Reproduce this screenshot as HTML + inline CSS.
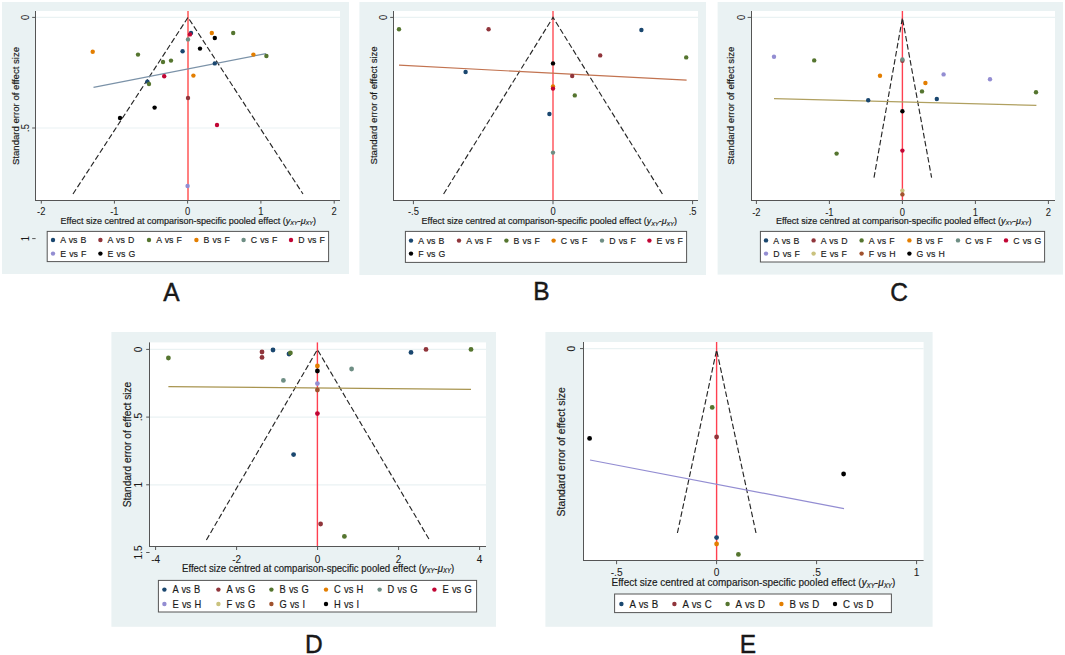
<!DOCTYPE html>
<html><head><meta charset="utf-8"><title>Funnel plots</title>
<style>
html,body{margin:0;padding:0;background:#fff;}
body{width:1065px;height:655px;overflow:hidden;}
svg{display:block;}
text{font-family:"Liberation Sans", sans-serif;fill:#1a1a1a;stroke:#1a1a1a;stroke-width:0.18px;}
</style></head><body>
<svg width="1065" height="655" viewBox="0 0 1065 655">
<rect width="1065" height="655" fill="#fff"/>
<rect x="2" y="2" width="347" height="272" fill="#eaf2f3"/>
<rect x="36" y="11" width="304" height="189" fill="#fff"/>
<line x1="36" y1="17.4" x2="340" y2="17.4" stroke="#eaf2f3" stroke-width="1.2"/>
<line x1="36" y1="128" x2="340" y2="128" stroke="#eaf2f3" stroke-width="1.2"/>
<line x1="188" y1="11" x2="188" y2="200" stroke="#ff8080" stroke-width="2.0"/>
<path d="M73 194L188 17.4L303 194" fill="none" stroke="#262626" stroke-width="1.15" stroke-dasharray="5.6 2.6"/>
<line x1="93.5" y1="87.3" x2="266" y2="53.6" stroke="#7b92a8" stroke-width="1.2"/>
<circle cx="92.7" cy="51.7" r="2.2" fill="#e37e00"/>
<circle cx="138" cy="54.6" r="2.2" fill="#55752f"/>
<circle cx="120" cy="118" r="2.2" fill="#000000"/>
<circle cx="187.6" cy="186" r="2.2" fill="#938dd2"/>
<circle cx="191" cy="33" r="2.2" fill="#1a476f"/>
<circle cx="190" cy="34.4" r="2.2" fill="#c10534"/>
<circle cx="211.8" cy="33" r="2.2" fill="#e37e00"/>
<circle cx="233.2" cy="33" r="2.2" fill="#55752f"/>
<circle cx="214.8" cy="38" r="2.2" fill="#000000"/>
<circle cx="188" cy="39.4" r="2.2" fill="#6e8e84"/>
<circle cx="200" cy="48.6" r="2.2" fill="#000000"/>
<circle cx="182.6" cy="51.2" r="2.2" fill="#1a476f"/>
<circle cx="253.4" cy="54.6" r="2.2" fill="#e37e00"/>
<circle cx="266.4" cy="56" r="2.2" fill="#55752f"/>
<circle cx="163" cy="62" r="2.2" fill="#55752f"/>
<circle cx="171" cy="60.6" r="2.2" fill="#55752f"/>
<circle cx="214.8" cy="63.4" r="2.2" fill="#1a476f"/>
<circle cx="164.2" cy="76.2" r="2.2" fill="#c10534"/>
<circle cx="193.4" cy="75.6" r="2.2" fill="#e37e00"/>
<circle cx="147.4" cy="81.6" r="2.2" fill="#1a476f"/>
<circle cx="149" cy="84" r="2.2" fill="#55752f"/>
<circle cx="188" cy="98" r="2.2" fill="#90353b"/>
<circle cx="154.6" cy="107.6" r="2.2" fill="#000000"/>
<circle cx="217" cy="125" r="2.2" fill="#c10534"/>
<line x1="35.5" y1="11" x2="35.5" y2="201" stroke="#555555" stroke-width="1"/>
<line x1="35" y1="200.5" x2="340" y2="200.5" stroke="#555555" stroke-width="1"/>
<line x1="32.2" y1="17.4" x2="35.6" y2="17.4" stroke="#555555" stroke-width="1"/>
<text transform="translate(28.72 17.4) rotate(-90) scale(0.9346 1)" text-anchor="middle" font-size="10.06" style="stroke-width:0.05px">0</text>
<line x1="32.2" y1="128" x2="35.6" y2="128" stroke="#555555" stroke-width="1"/>
<text transform="translate(28.72 128) rotate(-90) scale(0.9346 1)" text-anchor="middle" font-size="10.06" style="stroke-width:0.05px">.5</text>
<line x1="32.2" y1="238.6" x2="35.6" y2="238.6" stroke="#555555" stroke-width="1"/>
<text transform="translate(28.72 238.6) rotate(-90) scale(0.9346 1)" text-anchor="middle" font-size="10.06" style="stroke-width:0.05px">1</text>
<line x1="41.3" y1="200" x2="41.3" y2="203.6" stroke="#555555" stroke-width="1"/>
<text transform="translate(41.3 215.12) scale(0.9346 1)" text-anchor="middle" font-size="10.06" style="stroke-width:0.05px">-2</text>
<line x1="114.4" y1="200" x2="114.4" y2="203.6" stroke="#555555" stroke-width="1"/>
<text transform="translate(114.4 215.12) scale(0.9346 1)" text-anchor="middle" font-size="10.06" style="stroke-width:0.05px">-1</text>
<line x1="187.6" y1="200" x2="187.6" y2="203.6" stroke="#555555" stroke-width="1"/>
<text transform="translate(187.6 215.12) scale(0.9346 1)" text-anchor="middle" font-size="10.06" style="stroke-width:0.05px">0</text>
<line x1="260.9" y1="200" x2="260.9" y2="203.6" stroke="#555555" stroke-width="1"/>
<text transform="translate(260.9 215.12) scale(0.9346 1)" text-anchor="middle" font-size="10.06" style="stroke-width:0.05px">1</text>
<line x1="334.2" y1="200" x2="334.2" y2="203.6" stroke="#555555" stroke-width="1"/>
<text transform="translate(334.2 215.12) scale(0.9346 1)" text-anchor="middle" font-size="10.06" style="stroke-width:0.05px">2</text>
<text transform="translate(60.6 223.97) scale(0.9346 1)" font-size="9.63">Effect size centred at comparison-specific pooled effect (<tspan font-style="italic">y</tspan><tspan font-style="italic" font-size="5.97" dy="1.2">XY</tspan><tspan dy="-1.2">-</tspan><tspan font-style="italic">μ</tspan><tspan font-style="italic" font-size="5.97" dy="1.2">XY</tspan><tspan dy="-1.2">)</tspan></text>
<text transform="translate(18.56 106) rotate(-90) scale(1.0000 1)" text-anchor="middle" font-size="9.6">Standard error of effect size</text>
<rect x="47.2" y="231.4" width="281.4" height="30.2" fill="#fff" stroke="#555555" stroke-width="1"/>
<circle cx="53" cy="240" r="2.2" fill="#1a476f"/>
<text transform="translate(60.2 243.45) scale(0.8901 1)" font-size="9.82" word-spacing="0.80">A vs B</text>
<circle cx="100.4" cy="240" r="2.2" fill="#90353b"/>
<text transform="translate(107.6 243.45) scale(0.8901 1)" font-size="9.82" word-spacing="0.80">A vs D</text>
<circle cx="149" cy="240" r="2.2" fill="#55752f"/>
<text transform="translate(156.2 243.45) scale(0.8901 1)" font-size="9.82" word-spacing="0.80">A vs F</text>
<circle cx="196.4" cy="240" r="2.2" fill="#e37e00"/>
<text transform="translate(203.6 243.45) scale(0.8901 1)" font-size="9.82" word-spacing="0.80">B vs F</text>
<circle cx="243.6" cy="240" r="2.2" fill="#6e8e84"/>
<text transform="translate(250.8 243.45) scale(0.8901 1)" font-size="9.82" word-spacing="0.80">C vs F</text>
<circle cx="291" cy="240" r="2.2" fill="#c10534"/>
<text transform="translate(298.2 243.45) scale(0.8901 1)" font-size="9.82" word-spacing="0.80">D vs F</text>
<circle cx="53" cy="253.6" r="2.2" fill="#938dd2"/>
<text transform="translate(60.2 257.05) scale(0.8901 1)" font-size="9.82" word-spacing="0.80">E vs F</text>
<circle cx="100.4" cy="253.6" r="2.2" fill="#000000"/>
<text transform="translate(107.6 257.05) scale(0.8901 1)" font-size="9.82" word-spacing="0.80">E vs G</text>
<text transform="translate(171.4 301.1) scale(0.9259 1)" text-anchor="middle" font-size="26.46" style="stroke:#111;stroke-width:0.45px">A</text>
<rect x="359.4" y="2" width="346.6" height="273" fill="#eaf2f3"/>
<rect x="394" y="11" width="304" height="189.6" fill="#fff"/>
<line x1="394" y1="17.4" x2="698" y2="17.4" stroke="#eaf2f3" stroke-width="1.2"/>
<line x1="553" y1="11" x2="553" y2="200.6" stroke="#ff4d55" stroke-width="1.4"/>
<path d="M443.6 194L553 17.4L662.4 194" fill="none" stroke="#262626" stroke-width="1.15" stroke-dasharray="5.6 2.6"/>
<line x1="399" y1="65.2" x2="686.6" y2="80.2" stroke="#c27350" stroke-width="1.2"/>
<circle cx="399" cy="29.2" r="2.2" fill="#55752f"/>
<circle cx="488.6" cy="29.2" r="2.2" fill="#90353b"/>
<circle cx="641.4" cy="30" r="2.2" fill="#1a476f"/>
<circle cx="600.2" cy="55.4" r="2.2" fill="#90353b"/>
<circle cx="686.2" cy="57.4" r="2.2" fill="#55752f"/>
<circle cx="553" cy="63.4" r="2.2" fill="#000000"/>
<circle cx="465.6" cy="72" r="2.2" fill="#1a476f"/>
<circle cx="572.2" cy="76" r="2.2" fill="#90353b"/>
<circle cx="553" cy="86.4" r="2.2" fill="#e37e00"/>
<circle cx="553" cy="88.6" r="2.2" fill="#c10534"/>
<circle cx="574.8" cy="95.4" r="2.2" fill="#55752f"/>
<circle cx="549.4" cy="114" r="2.2" fill="#1a476f"/>
<circle cx="553" cy="152.6" r="2.2" fill="#6e8e84"/>
<line x1="393.5" y1="11" x2="393.5" y2="201" stroke="#555555" stroke-width="1"/>
<line x1="393" y1="200.5" x2="698" y2="200.5" stroke="#555555" stroke-width="1"/>
<line x1="390.2" y1="17.4" x2="393.6" y2="17.4" stroke="#555555" stroke-width="1"/>
<text transform="translate(386.52 17.4) rotate(-90) scale(0.9346 1)" text-anchor="middle" font-size="10.06" style="stroke-width:0.05px">0</text>
<line x1="413.4" y1="200.6" x2="413.4" y2="204.2" stroke="#555555" stroke-width="1"/>
<text transform="translate(413.4 215.12) scale(0.9346 1)" text-anchor="middle" font-size="10.06" style="stroke-width:0.05px">-.5</text>
<line x1="553" y1="200.6" x2="553" y2="204.2" stroke="#555555" stroke-width="1"/>
<text transform="translate(553 215.12) scale(0.9346 1)" text-anchor="middle" font-size="10.06" style="stroke-width:0.05px">0</text>
<line x1="692.6" y1="200.6" x2="692.6" y2="204.2" stroke="#555555" stroke-width="1"/>
<text transform="translate(692.6 215.12) scale(0.9346 1)" text-anchor="middle" font-size="10.06" style="stroke-width:0.05px">.5</text>
<text transform="translate(421.6 224.37) scale(0.9346 1)" font-size="9.63">Effect size centred at comparison-specific pooled effect (<tspan font-style="italic">y</tspan><tspan font-style="italic" font-size="5.97" dy="1.2">XY</tspan><tspan dy="-1.2">-</tspan><tspan font-style="italic">μ</tspan><tspan font-style="italic" font-size="5.97" dy="1.2">XY</tspan><tspan dy="-1.2">)</tspan></text>
<text transform="translate(376.56 105.4) rotate(-90) scale(1.0000 1)" text-anchor="middle" font-size="9.6">Standard error of effect size</text>
<rect x="405.4" y="231.4" width="281.2" height="31" fill="#fff" stroke="#555555" stroke-width="1"/>
<circle cx="411" cy="240.6" r="2.2" fill="#1a476f"/>
<text transform="translate(418.2 244.05) scale(0.8901 1)" font-size="9.82" word-spacing="0.80">A vs B</text>
<circle cx="459" cy="240.6" r="2.2" fill="#90353b"/>
<text transform="translate(466.2 244.05) scale(0.8901 1)" font-size="9.82" word-spacing="0.80">A vs F</text>
<circle cx="506.4" cy="240.6" r="2.2" fill="#55752f"/>
<text transform="translate(513.6 244.05) scale(0.8901 1)" font-size="9.82" word-spacing="0.80">B vs F</text>
<circle cx="553.6" cy="240.6" r="2.2" fill="#e37e00"/>
<text transform="translate(560.8 244.05) scale(0.8901 1)" font-size="9.82" word-spacing="0.80">C vs F</text>
<circle cx="602" cy="240.6" r="2.2" fill="#6e8e84"/>
<text transform="translate(609.2 244.05) scale(0.8901 1)" font-size="9.82" word-spacing="0.80">D vs F</text>
<circle cx="649.4" cy="240.6" r="2.2" fill="#c10534"/>
<text transform="translate(656.6 244.05) scale(0.8901 1)" font-size="9.82" word-spacing="0.80">E vs F</text>
<circle cx="411" cy="253.6" r="2.2" fill="#000000"/>
<text transform="translate(418.2 257.05) scale(0.8901 1)" font-size="9.82" word-spacing="0.80">F vs G</text>
<text transform="translate(541.3 300.4) scale(0.9259 1)" text-anchor="middle" font-size="26.46" style="stroke:#111;stroke-width:0.45px">B</text>
<rect x="717.6" y="2" width="345.4" height="272.6" fill="#eaf2f3"/>
<rect x="751.5" y="11" width="303.5" height="189.4" fill="#fff"/>
<line x1="751.5" y1="17.4" x2="1055" y2="17.4" stroke="#eaf2f3" stroke-width="1.2"/>
<line x1="902.4" y1="11" x2="902.4" y2="200.4" stroke="#ff4050" stroke-width="1.4"/>
<path d="M874 177.6L902.4 18L931.6 177.6" fill="none" stroke="#262626" stroke-width="1.15" stroke-dasharray="5.6 2.6"/>
<line x1="774" y1="98.6" x2="1036.4" y2="105.4" stroke="#b0a060" stroke-width="1.2"/>
<circle cx="774" cy="56.8" r="2.2" fill="#938dd2"/>
<circle cx="814.2" cy="60.4" r="2.2" fill="#55752f"/>
<circle cx="902.4" cy="60.8" r="2.2" fill="#90353b"/>
<circle cx="902.4" cy="59.5" r="2.2" fill="#6e8e84"/>
<circle cx="880" cy="75.8" r="2.2" fill="#e37e00"/>
<circle cx="943.6" cy="74.4" r="2.2" fill="#938dd2"/>
<circle cx="990" cy="79.2" r="2.2" fill="#938dd2"/>
<circle cx="925.4" cy="83" r="2.2" fill="#e37e00"/>
<circle cx="922" cy="91.4" r="2.2" fill="#55752f"/>
<circle cx="1036" cy="92.2" r="2.2" fill="#55752f"/>
<circle cx="868.2" cy="100.2" r="2.2" fill="#1a476f"/>
<circle cx="936.8" cy="99" r="2.2" fill="#1a476f"/>
<circle cx="902.4" cy="111.2" r="2.2" fill="#000000"/>
<circle cx="836.6" cy="153.6" r="2.2" fill="#55752f"/>
<circle cx="902.4" cy="150.6" r="2.2" fill="#c10534"/>
<circle cx="902.4" cy="190.6" r="2.2" fill="#cac27e"/>
<circle cx="902.4" cy="194.4" r="2.2" fill="#a0522d"/>
<line x1="751.5" y1="11" x2="751.5" y2="201" stroke="#555555" stroke-width="1"/>
<line x1="751" y1="200.5" x2="1055" y2="200.5" stroke="#555555" stroke-width="1"/>
<line x1="747.6" y1="17.4" x2="751" y2="17.4" stroke="#555555" stroke-width="1"/>
<text transform="translate(744.52 17.4) rotate(-90) scale(0.9346 1)" text-anchor="middle" font-size="10.06" style="stroke-width:0.05px">0</text>
<line x1="756.4" y1="200.4" x2="756.4" y2="204" stroke="#555555" stroke-width="1"/>
<text transform="translate(756.4 215.52) scale(0.9346 1)" text-anchor="middle" font-size="10.06" style="stroke-width:0.05px">-2</text>
<line x1="829.4" y1="200.4" x2="829.4" y2="204" stroke="#555555" stroke-width="1"/>
<text transform="translate(829.4 215.52) scale(0.9346 1)" text-anchor="middle" font-size="10.06" style="stroke-width:0.05px">-1</text>
<line x1="902.4" y1="200.4" x2="902.4" y2="204" stroke="#555555" stroke-width="1"/>
<text transform="translate(902.4 215.52) scale(0.9346 1)" text-anchor="middle" font-size="10.06" style="stroke-width:0.05px">0</text>
<line x1="975.4" y1="200.4" x2="975.4" y2="204" stroke="#555555" stroke-width="1"/>
<text transform="translate(975.4 215.52) scale(0.9346 1)" text-anchor="middle" font-size="10.06" style="stroke-width:0.05px">1</text>
<line x1="1048.4" y1="200.4" x2="1048.4" y2="204" stroke="#555555" stroke-width="1"/>
<text transform="translate(1048.4 215.52) scale(0.9346 1)" text-anchor="middle" font-size="10.06" style="stroke-width:0.05px">2</text>
<text transform="translate(776 223.77) scale(0.9346 1)" font-size="9.63">Effect size centred at comparison-specific pooled effect (<tspan font-style="italic">y</tspan><tspan font-style="italic" font-size="5.97" dy="1.2">XY</tspan><tspan dy="-1.2">-</tspan><tspan font-style="italic">μ</tspan><tspan font-style="italic" font-size="5.97" dy="1.2">XY</tspan><tspan dy="-1.2">)</tspan></text>
<text transform="translate(733.76 105.7) rotate(-90) scale(1.0000 1)" text-anchor="middle" font-size="9.6">Standard error of effect size</text>
<rect x="760.4" y="231.4" width="284.2" height="30.6" fill="#fff" stroke="#555555" stroke-width="1"/>
<circle cx="766" cy="240.4" r="2.2" fill="#1a476f"/>
<text transform="translate(773.2 243.85) scale(0.8901 1)" font-size="9.82" word-spacing="0.80">A vs B</text>
<circle cx="813.6" cy="240.4" r="2.2" fill="#90353b"/>
<text transform="translate(820.8 243.85) scale(0.8901 1)" font-size="9.82" word-spacing="0.80">A vs D</text>
<circle cx="861.6" cy="240.4" r="2.2" fill="#55752f"/>
<text transform="translate(868.8 243.85) scale(0.8901 1)" font-size="9.82" word-spacing="0.80">A vs F</text>
<circle cx="909.4" cy="240.4" r="2.2" fill="#e37e00"/>
<text transform="translate(916.6 243.85) scale(0.8901 1)" font-size="9.82" word-spacing="0.80">B vs F</text>
<circle cx="958" cy="240.4" r="2.2" fill="#6e8e84"/>
<text transform="translate(965.2 243.85) scale(0.8901 1)" font-size="9.82" word-spacing="0.80">C vs F</text>
<circle cx="1006" cy="240.4" r="2.2" fill="#c10534"/>
<text transform="translate(1013.2 243.85) scale(0.8901 1)" font-size="9.82" word-spacing="0.80">C vs G</text>
<circle cx="766" cy="253.6" r="2.2" fill="#938dd2"/>
<text transform="translate(773.2 257.05) scale(0.8901 1)" font-size="9.82" word-spacing="0.80">D vs F</text>
<circle cx="813.6" cy="253.6" r="2.2" fill="#cac27e"/>
<text transform="translate(820.8 257.05) scale(0.8901 1)" font-size="9.82" word-spacing="0.80">E vs F</text>
<circle cx="861.6" cy="253.6" r="2.2" fill="#a0522d"/>
<text transform="translate(868.8 257.05) scale(0.8901 1)" font-size="9.82" word-spacing="0.80">F vs H</text>
<circle cx="909.4" cy="253.6" r="2.2" fill="#000000"/>
<text transform="translate(916.6 257.05) scale(0.8901 1)" font-size="9.82" word-spacing="0.80">G vs H</text>
<text transform="translate(899 300.5) scale(0.9259 1)" text-anchor="middle" font-size="26.46" style="stroke:#111;stroke-width:0.45px">C</text>
<rect x="111.4" y="332" width="384.6" height="294.8" fill="#eaf2f3"/>
<rect x="150" y="342.4" width="336" height="204" fill="#fff"/>
<line x1="150" y1="349.4" x2="486" y2="349.4" stroke="#eaf2f3" stroke-width="1.2"/>
<line x1="150" y1="417.1" x2="486" y2="417.1" stroke="#eaf2f3" stroke-width="1.2"/>
<line x1="150" y1="484.8" x2="486" y2="484.8" stroke="#eaf2f3" stroke-width="1.2"/>
<line x1="317.4" y1="342.4" x2="317.4" y2="546.4" stroke="#ff4050" stroke-width="1.4"/>
<path d="M206.4 540L317.4 349.6L429.4 539.8" fill="none" stroke="#262626" stroke-width="1.15" stroke-dasharray="5.6 2.6"/>
<line x1="168.4" y1="386.6" x2="471" y2="389.4" stroke="#a8944f" stroke-width="1.2"/>
<circle cx="168.4" cy="358" r="2.4" fill="#55752f"/>
<circle cx="262" cy="352" r="2.4" fill="#90353b"/>
<circle cx="262" cy="357.4" r="2.4" fill="#90353b"/>
<circle cx="273" cy="350" r="2.4" fill="#1a476f"/>
<circle cx="289" cy="354" r="2.4" fill="#1a476f"/>
<circle cx="290.4" cy="353" r="2.4" fill="#55752f"/>
<circle cx="283.4" cy="380.4" r="2.4" fill="#6e8e84"/>
<circle cx="411" cy="352.4" r="2.4" fill="#1a476f"/>
<circle cx="426" cy="349.4" r="2.4" fill="#90353b"/>
<circle cx="471" cy="349.4" r="2.4" fill="#55752f"/>
<circle cx="351.6" cy="369" r="2.4" fill="#6e8e84"/>
<circle cx="317.4" cy="366" r="2.4" fill="#e37e00"/>
<circle cx="317.4" cy="371" r="2.4" fill="#000000"/>
<circle cx="317.4" cy="383.6" r="2.4" fill="#938dd2"/>
<circle cx="317.4" cy="390" r="2.4" fill="#a0522d"/>
<circle cx="317.4" cy="413.6" r="2.4" fill="#c10534"/>
<circle cx="293.6" cy="454.6" r="2.4" fill="#1a476f"/>
<circle cx="320.6" cy="524" r="2.4" fill="#90353b"/>
<circle cx="344.4" cy="536.4" r="2.4" fill="#55752f"/>
<line x1="149.5" y1="342.4" x2="149.5" y2="547" stroke="#555555" stroke-width="1"/>
<line x1="149" y1="546.5" x2="486" y2="546.5" stroke="#555555" stroke-width="1"/>
<line x1="146.2" y1="349.4" x2="149.6" y2="349.4" stroke="#555555" stroke-width="1"/>
<text transform="translate(141.75 349.4) rotate(-90) scale(0.9346 1)" text-anchor="middle" font-size="10.7" style="stroke-width:0.05px">0</text>
<line x1="146.2" y1="417.1" x2="149.6" y2="417.1" stroke="#555555" stroke-width="1"/>
<text transform="translate(141.75 417.1) rotate(-90) scale(0.9346 1)" text-anchor="middle" font-size="10.7" style="stroke-width:0.05px">.5</text>
<line x1="146.2" y1="484.8" x2="149.6" y2="484.8" stroke="#555555" stroke-width="1"/>
<text transform="translate(141.75 484.8) rotate(-90) scale(0.9346 1)" text-anchor="middle" font-size="10.7" style="stroke-width:0.05px">1</text>
<line x1="146.2" y1="552.5" x2="149.6" y2="552.5" stroke="#555555" stroke-width="1"/>
<text transform="translate(141.75 552.5) rotate(-90) scale(0.9346 1)" text-anchor="middle" font-size="10.7" style="stroke-width:0.05px">1.5</text>
<line x1="155.6" y1="546.4" x2="155.6" y2="550" stroke="#555555" stroke-width="1"/>
<text transform="translate(155.6 563.14) scale(0.9346 1)" text-anchor="middle" font-size="10.7" style="stroke-width:0.05px">-4</text>
<line x1="236.6" y1="546.4" x2="236.6" y2="550" stroke="#555555" stroke-width="1"/>
<text transform="translate(236.6 563.14) scale(0.9346 1)" text-anchor="middle" font-size="10.7" style="stroke-width:0.05px">-2</text>
<line x1="317.6" y1="546.4" x2="317.6" y2="550" stroke="#555555" stroke-width="1"/>
<text transform="translate(317.6 563.14) scale(0.9346 1)" text-anchor="middle" font-size="10.7" style="stroke-width:0.05px">0</text>
<line x1="398.6" y1="546.4" x2="398.6" y2="550" stroke="#555555" stroke-width="1"/>
<text transform="translate(398.6 563.14) scale(0.9346 1)" text-anchor="middle" font-size="10.7" style="stroke-width:0.05px">2</text>
<line x1="479.6" y1="546.4" x2="479.6" y2="550" stroke="#555555" stroke-width="1"/>
<text transform="translate(479.6 563.14) scale(0.9346 1)" text-anchor="middle" font-size="10.7" style="stroke-width:0.05px">4</text>
<text transform="translate(182 572) scale(0.9346 1)" font-size="10.27">Effect size centred at comparison-specific pooled effect (<tspan font-style="italic">y</tspan><tspan font-style="italic" font-size="6.37" dy="1.2">XY</tspan><tspan dy="-1.2">-</tspan><tspan font-style="italic">μ</tspan><tspan font-style="italic" font-size="6.37" dy="1.2">XY</tspan><tspan dy="-1.2">)</tspan></text>
<text transform="translate(130.57 444.5) rotate(-90) scale(1.0000 1)" text-anchor="middle" font-size="10.2">Standard error of effect size</text>
<rect x="158.4" y="580.4" width="318.2" height="31.6" fill="#fff" stroke="#555555" stroke-width="1"/>
<circle cx="164.4" cy="589.6" r="2.2" fill="#1a476f"/>
<text transform="translate(172.4 593.27) scale(0.8901 1)" font-size="10.46" word-spacing="0.80">A vs B</text>
<circle cx="218.4" cy="589.6" r="2.2" fill="#90353b"/>
<text transform="translate(226.4 593.27) scale(0.8901 1)" font-size="10.46" word-spacing="0.80">A vs G</text>
<circle cx="271.4" cy="589.6" r="2.2" fill="#55752f"/>
<text transform="translate(279.4 593.27) scale(0.8901 1)" font-size="10.46" word-spacing="0.80">B vs G</text>
<circle cx="326" cy="589.6" r="2.2" fill="#e37e00"/>
<text transform="translate(334 593.27) scale(0.8901 1)" font-size="10.46" word-spacing="0.80">C vs H</text>
<circle cx="379.6" cy="589.6" r="2.2" fill="#6e8e84"/>
<text transform="translate(387.6 593.27) scale(0.8901 1)" font-size="10.46" word-spacing="0.80">D vs G</text>
<circle cx="434.4" cy="589.6" r="2.2" fill="#c10534"/>
<text transform="translate(442.4 593.27) scale(0.8901 1)" font-size="10.46" word-spacing="0.80">E vs G</text>
<circle cx="164.4" cy="604" r="2.2" fill="#938dd2"/>
<text transform="translate(172.4 607.67) scale(0.8901 1)" font-size="10.46" word-spacing="0.80">E vs H</text>
<circle cx="218.4" cy="604" r="2.2" fill="#cac27e"/>
<text transform="translate(226.4 607.67) scale(0.8901 1)" font-size="10.46" word-spacing="0.80">F vs G</text>
<circle cx="271.4" cy="604" r="2.2" fill="#a0522d"/>
<text transform="translate(279.4 607.67) scale(0.8901 1)" font-size="10.46" word-spacing="0.80">G vs I</text>
<circle cx="326" cy="604" r="2.2" fill="#000000"/>
<text transform="translate(334 607.67) scale(0.8901 1)" font-size="10.46" word-spacing="0.80">H vs I</text>
<text transform="translate(313.8 653.1) scale(0.9259 1)" text-anchor="middle" font-size="26.46" style="stroke:#111;stroke-width:0.45px">D</text>
<rect x="545.4" y="332" width="387.2" height="294.8" fill="#eaf2f3"/>
<rect x="584" y="342" width="339.6" height="218.6" fill="#fff"/>
<line x1="584" y1="348.6" x2="923.6" y2="348.6" stroke="#eaf2f3" stroke-width="1.2"/>
<line x1="716.6" y1="342" x2="716.6" y2="560.6" stroke="#ff4050" stroke-width="1.4"/>
<path d="M677.4 533L716.6 350L756 533" fill="none" stroke="#262626" stroke-width="1.15" stroke-dasharray="5.6 2.6"/>
<line x1="590" y1="460" x2="844" y2="508.6" stroke="#938dd2" stroke-width="1.2"/>
<circle cx="712.2" cy="407.4" r="2.4" fill="#55752f"/>
<circle cx="716.6" cy="437" r="2.4" fill="#90353b"/>
<circle cx="589.6" cy="438.4" r="2.4" fill="#000000"/>
<circle cx="843.6" cy="474" r="2.4" fill="#000000"/>
<circle cx="716.6" cy="537.6" r="2.4" fill="#1a476f"/>
<circle cx="716.6" cy="544" r="2.4" fill="#e37e00"/>
<circle cx="738.4" cy="554.4" r="2.4" fill="#55752f"/>
<line x1="583.5" y1="342" x2="583.5" y2="561" stroke="#555555" stroke-width="1"/>
<line x1="583" y1="560.5" x2="923.6" y2="560.5" stroke="#555555" stroke-width="1"/>
<line x1="580" y1="348.6" x2="583.4" y2="348.6" stroke="#555555" stroke-width="1"/>
<text transform="translate(575.42 348.6) rotate(-90) scale(0.9346 1)" text-anchor="middle" font-size="10.91" style="stroke-width:0.05px">0</text>
<line x1="616.6" y1="560.6" x2="616.6" y2="564.2" stroke="#555555" stroke-width="1"/>
<text transform="translate(616.6 576.42) scale(0.9346 1)" text-anchor="middle" font-size="10.91" style="stroke-width:0.05px">-.5</text>
<line x1="716.6" y1="560.6" x2="716.6" y2="564.2" stroke="#555555" stroke-width="1"/>
<text transform="translate(716.6 576.42) scale(0.9346 1)" text-anchor="middle" font-size="10.91" style="stroke-width:0.05px">0</text>
<line x1="816.6" y1="560.6" x2="816.6" y2="564.2" stroke="#555555" stroke-width="1"/>
<text transform="translate(816.6 576.42) scale(0.9346 1)" text-anchor="middle" font-size="10.91" style="stroke-width:0.05px">.5</text>
<line x1="916.6" y1="560.6" x2="916.6" y2="564.2" stroke="#555555" stroke-width="1"/>
<text transform="translate(916.6 576.42) scale(0.9346 1)" text-anchor="middle" font-size="10.91" style="stroke-width:0.05px">1</text>
<text transform="translate(611.6 586.35) scale(0.9346 1)" font-size="10.7">Effect size centred at comparison-specific pooled effect (<tspan font-style="italic">y</tspan><tspan font-style="italic" font-size="6.63" dy="1.2">XY</tspan><tspan dy="-1.2">-</tspan><tspan font-style="italic">μ</tspan><tspan font-style="italic" font-size="6.63" dy="1.2">XY</tspan><tspan dy="-1.2">)</tspan></text>
<text transform="translate(565.17 451.8) rotate(-90) scale(1.0000 1)" text-anchor="middle" font-size="10.5">Standard error of effect size</text>
<rect x="614.6" y="594" width="276.8" height="18.6" fill="#fff" stroke="#555555" stroke-width="1"/>
<circle cx="621.4" cy="604" r="2.2" fill="#1a476f"/>
<text transform="translate(629.4 607.82) scale(0.8901 1)" font-size="10.89" word-spacing="0.80">A vs B</text>
<circle cx="674.4" cy="604" r="2.2" fill="#90353b"/>
<text transform="translate(682.4 607.82) scale(0.8901 1)" font-size="10.89" word-spacing="0.80">A vs C</text>
<circle cx="727.6" cy="604" r="2.2" fill="#55752f"/>
<text transform="translate(735.6 607.82) scale(0.8901 1)" font-size="10.89" word-spacing="0.80">A vs D</text>
<circle cx="781.4" cy="604" r="2.2" fill="#e37e00"/>
<text transform="translate(789.4 607.82) scale(0.8901 1)" font-size="10.89" word-spacing="0.80">B vs D</text>
<circle cx="835" cy="604" r="2.2" fill="#000000"/>
<text transform="translate(843 607.82) scale(0.8901 1)" font-size="10.89" word-spacing="0.80">C vs D</text>
<text transform="translate(748 653.1) scale(0.9259 1)" text-anchor="middle" font-size="26.46" style="stroke:#111;stroke-width:0.45px">E</text>
</svg>
</body></html>
